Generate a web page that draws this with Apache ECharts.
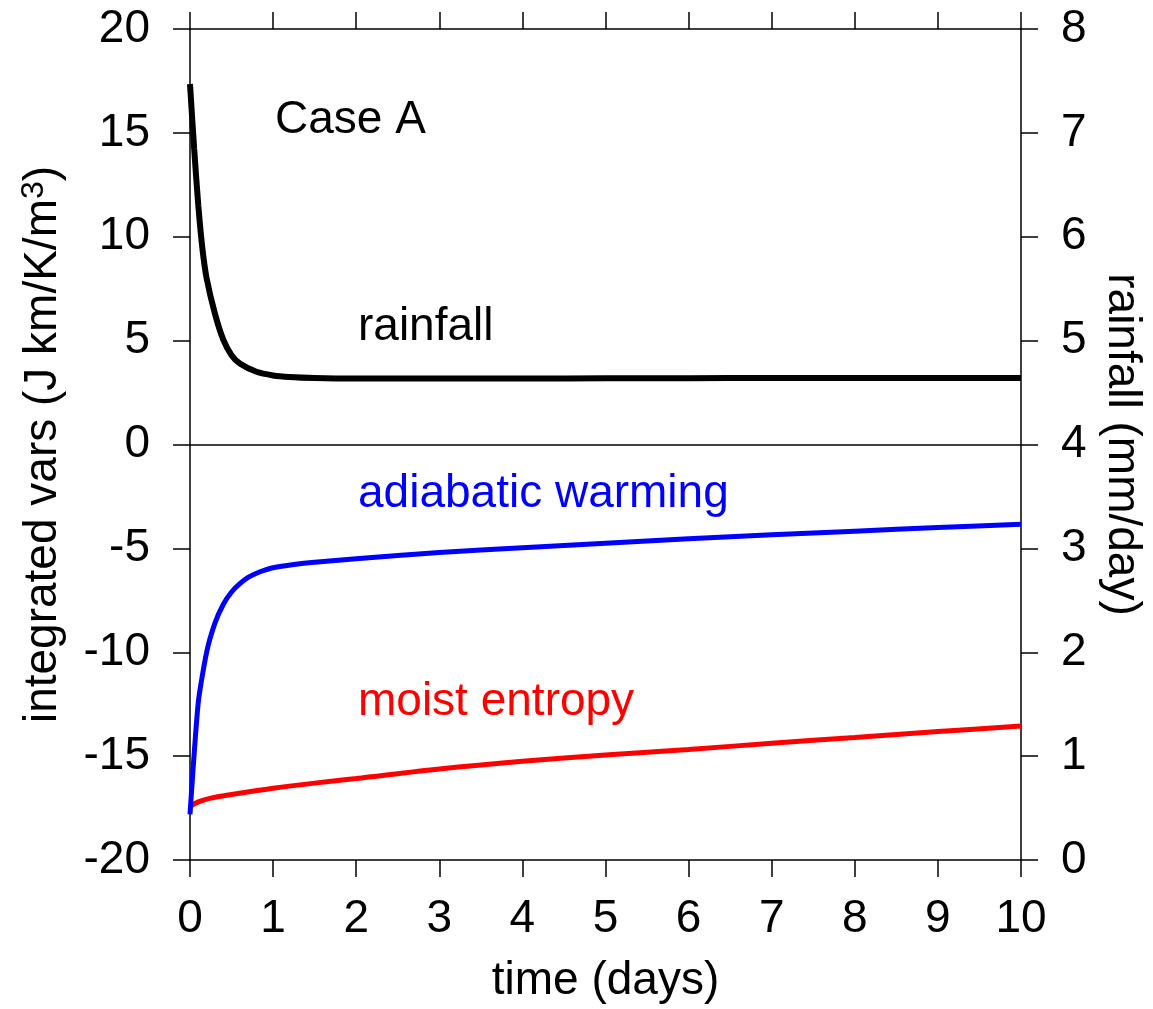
<!DOCTYPE html>
<html>
<head>
<meta charset="utf-8">
<script src="https://cdn.jsdelivr.net/npm/echarts@6/dist/echarts.min.js"></script>
<style>
html,body{margin:0;padding:0;background:#fff;overflow:hidden;}
#chart{width:1153px;height:1009px;}
</style>
</head>
<body>
<div id="chart"></div>
<script>
// time (days) and values
const rainTime = [0, 0.05, 0.1, 0.15, 0.2, 0.3, 0.4, 0.5, 0.6, 0.8, 1.0, 1.2, 1.5, 2, 3, 4, 5, 6, 7, 8, 9, 10];
const rainfall = [7.47, 6.85, 6.3, 5.88, 5.6, 5.26, 5.01, 4.86, 4.78, 4.70, 4.665, 4.65, 4.64, 4.635, 4.635, 4.635, 4.638, 4.638, 4.64, 4.64, 4.64, 4.64]; // mm/day (right axis)

const adiaTime = [0, 0.1, 0.2, 0.3, 0.4, 0.5, 0.6, 0.7, 0.8, 0.9, 1.0, 1.25, 1.5, 2, 3, 4, 5, 6, 7, 8, 9, 10];
const adiabatic = [-17.8, -12.4, -10.0, -8.6, -7.7, -7.1, -6.7, -6.4, -6.2, -6.05, -5.93, -5.78, -5.67, -5.5, -5.2, -4.97, -4.75, -4.54, -4.35, -4.17, -4.0, -3.84];

const moistTime = [0, 0.1, 0.25, 0.5, 1, 1.5, 2, 3, 4, 5, 6, 7, 8, 9, 10];
const moistEntropy = [-17.42, -17.2, -17.02, -16.85, -16.55, -16.3, -16.08, -15.62, -15.25, -14.95, -14.68, -14.38, -14.1, -13.82, -13.55];

const xTicks = [0,1,2,3,4,5,6,7,8,9,10];
const leftTicks = [-20,-15,-10,-5,0,5,10,15,20];
const rightTicks = [0,1,2,3,4,5,6,7,8];

const zip = (a, b) => a.map((v, i) => [v, b[i]]);
const FONT = 'Liberation Sans, Arial, sans-serif';
const FS = 46;
const axisLineStyle = {color: '#000', width: 1.5};

const chart = echarts.init(document.getElementById('chart'), null, {renderer: 'canvas', width: 1153, height: 1009});
chart.setOption({
  animation: false,
  backgroundColor: '#fff',
  grid: {left: 190, top: 29, width: 835, height: 834, containLabel: false},
  xAxis: [{
    type: 'value', position: 'bottom', min: xTicks[0], max: xTicks[xTicks.length-1], interval: 1,
    name: 'time (days)', nameLocation: 'middle', nameGap: 98,
    nameTextStyle: {fontFamily: FONT, fontSize: FS, color: '#000'},
    axisLine: {show: true, onZero: false, lineStyle: axisLineStyle},
    axisTick: {show: true, length: 17, lineStyle: axisLineStyle},
    axisLabel: {fontFamily: FONT, fontSize: FS, color: '#000', margin: 36},
    splitLine: {show: false}
  }, {
    type: 'value', position: 'top', min: xTicks[0], max: xTicks[xTicks.length-1], interval: 1,
    axisLine: {show: true, onZero: false, lineStyle: axisLineStyle},
    axisTick: {show: true, length: 17, lineStyle: axisLineStyle},
    axisLabel: {show: false},
    splitLine: {show: false}
  }],
  yAxis: [{
    type: 'value', position: 'left', min: leftTicks[0], max: leftTicks[leftTicks.length-1], interval: 5,
    name: 'integrated vars (J km/K/m{sup|3})', nameLocation: 'middle', nameGap: 122, nameRotate: 90,
    nameTextStyle: {fontFamily: FONT, fontSize: FS, color: '#000', lineHeight: 50,
      rich: {sup: {fontFamily: FONT, fontSize: 32, color: '#000', lineHeight: 50, verticalAlign: 'top', padding: [0, 0, 0, 0]}}},
    axisLine: {show: true, onZero: false, lineStyle: axisLineStyle},
    axisTick: {show: true, length: 17, lineStyle: axisLineStyle},
    axisLabel: {fontFamily: FONT, fontSize: FS, color: '#000', margin: 40},
    splitLine: {show: false}
  }, {
    type: 'value', position: 'right', min: rightTicks[0], max: rightTicks[rightTicks.length-1], interval: 1,
    name: 'rainfall (mm/day)', nameLocation: 'middle', nameGap: 78, nameRotate: -90,
    nameTextStyle: {fontFamily: FONT, fontSize: FS, color: '#000'},
    axisLine: {show: true, onZero: false, lineStyle: axisLineStyle},
    axisTick: {show: true, length: 17, lineStyle: axisLineStyle},
    axisLabel: {fontFamily: FONT, fontSize: FS, color: '#000', margin: 40},
    splitLine: {show: false}
  }],
  series: [{
    name: 'moist entropy', type: 'line', xAxisIndex: 0, yAxisIndex: 0,
    data: zip(moistTime, moistEntropy), showSymbol: false, smooth: 0.3,
    lineStyle: {color: '#ff0000', width: 5}, itemStyle: {color: '#ff0000'},
    markLine: {silent: true, symbol: 'none', label: {show: false},
      lineStyle: {color: '#000', width: 1.5, type: 'solid'}, data: [{yAxis: 0}]}
  }, {
    name: 'adiabatic warming', type: 'line', xAxisIndex: 0, yAxisIndex: 0,
    data: zip(adiaTime, adiabatic), showSymbol: false, smooth: 0.2,
    lineStyle: {color: '#0000ff', width: 5}, itemStyle: {color: '#0000ff'}
  }, {
    name: 'rainfall', type: 'line', xAxisIndex: 0, yAxisIndex: 1,
    data: zip(rainTime, rainfall), showSymbol: false, smooth: 0.3,
    lineStyle: {color: '#000', width: 6}, itemStyle: {color: '#000'}
  }],
  graphic: [
    {type: 'text', left: 275, top: 97, style: {text: 'Case A', fontFamily: FONT, fontSize: FS, fill: '#000'}},
    {type: 'text', left: 358, top: 304, style: {text: 'rainfall', fontFamily: FONT, fontSize: FS, fill: '#000'}},
    {type: 'text', left: 358, top: 471, style: {text: 'adiabatic warming', fontFamily: FONT, fontSize: FS, fill: '#0000ff'}},
    {type: 'text', left: 358, top: 679, style: {text: 'moist entropy', fontFamily: FONT, fontSize: FS, fill: '#ff0000'}}
  ]
});
</script>
</body>
</html>
